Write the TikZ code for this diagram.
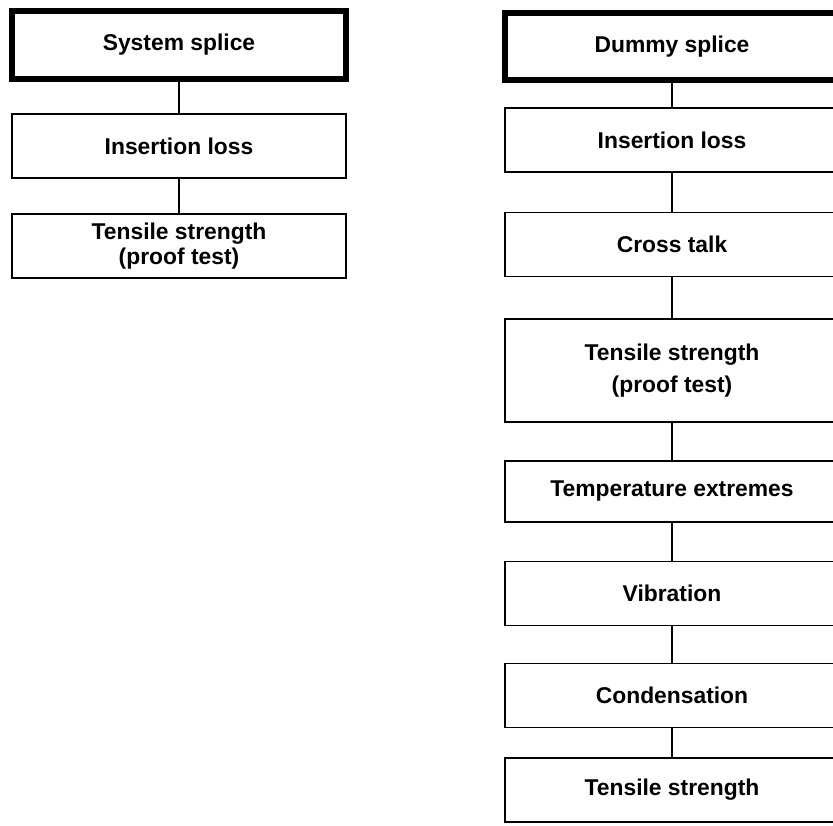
\documentclass[tikz,border=0pt]{standalone}
\usepackage{fontspec}
\setmainfont{Liberation Sans}
\usetikzlibrary{positioning}

\begin{document}
\begin{tikzpicture}[
    stage/.style={
      draw,
      line width=1.6pt,
      minimum width=10.02cm,
      minimum height=1.92cm,
      align=center,
      inner sep=0pt,
      font=\fontsize{19.5}{27}\selectfont\bfseries
    },
    origin/.style={
      stage,
      line width=5pt,
      minimum height=2.02cm
    },
    tallstage/.style={
      stage,
      minimum height=3.09cm
    },
    link/.style={
      line width=1.4pt
    }
  ]

    % --- Page frame
    \useasboundingbox (0,0) rectangle (24.99,-24.78);

    % --- Left column
    \node[origin] (syssplice) at (5.37,-1.35) {System splice};
    \node[stage] (sysloss) at (5.37,-4.39) {Insertion loss};
    \node[stage] (sysproof) at (5.37,-7.38) {Tensile strength\\[-5pt](proof test)};

    % --- Right column
    \node[origin] (dumsplice) at (20.16,-1.395) {Dummy splice};
    \node[stage] (dumloss) at (20.16,-4.20) {Insertion loss};
    \node[stage] (crosstalk) at (20.16,-7.335) {Cross talk};
    \node[tallstage] (dumproof) at (20.16,-11.115) {Tensile strength\\(proof test)};
    \node[stage, minimum height=1.83cm] (temp) at (20.16,-14.745) {Temperature extremes};
    \node[stage] (vibration) at (20.16,-17.805) {Vibration};
    \node[stage] (condense) at (20.16,-20.865) {Condensation};
    \node[stage] (tensile) at (20.16,-23.70) {Tensile strength};

    % --- Left links
    \draw[link] (syssplice.south) -- (sysloss.north);
    \draw[link] (sysloss.south) -- (sysproof.north);

    % --- Right links
    \draw[link] (dumsplice.south) -- (dumloss.north);
    \draw[link] (dumloss.south) -- (crosstalk.north);
    \draw[link] (crosstalk.south) -- (dumproof.north);
    \draw[link] (dumproof.south) -- (temp.north);
    \draw[link] (temp.south) -- (vibration.north);
    \draw[link] (vibration.south) -- (condense.north);
    \draw[link] (condense.south) -- (tensile.north);

\end{tikzpicture}
\end{document}
